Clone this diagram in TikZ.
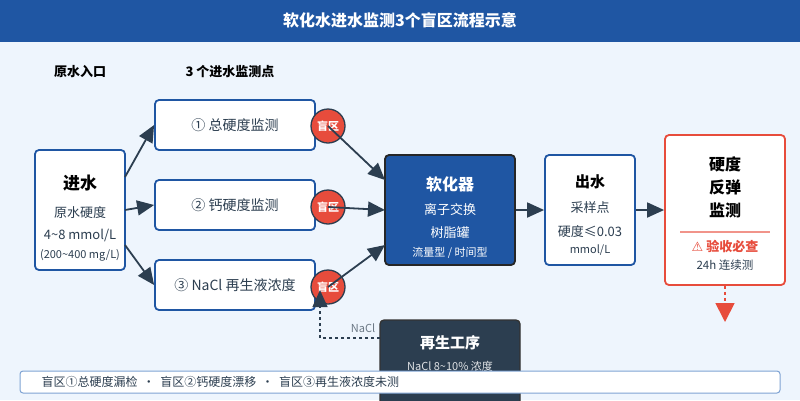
\documentclass[tikz,border=0pt]{standalone}
\usepackage{fontspec}
\setmainfont{Noto Sans CJK SC}
\newfontfamily\symfont{DejaVu Sans}
\usetikzlibrary{arrows.meta,positioning}
\definecolor{titblue}{HTML}{1F56A3}
\definecolor{bgblue}{HTML}{EEF5FD}
\definecolor{darkline}{HTML}{2C3E50}
\definecolor{alertred}{HTML}{E74C3C}
\definecolor{legline}{HTML}{7FA3D3}
\tikzset{
  box/.style={draw=titblue, line width=1.8pt, fill=white, rounded corners=4pt, align=center},
  blind/.style={circle, draw=darkline, line width=1.3pt, fill=alertred, minimum size=34pt, inner sep=0pt, text=white, font=\fontsize{11}{11}\selectfont\bfseries},
  flow/.style={draw=darkline, line width=1.8pt, -{Triangle[length=17pt,width=15pt]}},
}
\begin{document}
\begin{tikzpicture}[x=1pt,y=-1pt]
	% Fondo
		\fill[bgblue] (0,0) rectangle (800,400);
		\fill[titblue] (0,0) rectangle (800,42);
		\node[text=white, font=\fontsize{16}{16}\selectfont\bfseries] (title) at (400,20) {软化水进水监测3个盲区流程示意};
		\useasboundingbox (0,0) rectangle (800,400);

	% Encabezados
		\node[font=\fontsize{13}{13}\selectfont\bfseries] (hin) at (80,72) {原水入口};
		\node[font=\fontsize{13}{13}\selectfont\bfseries] (hmon) at (230,72) {3 个进水监测点};

	% Entrada
		\draw[box] (35,150) rectangle (125,270);
		\node[font=\fontsize{17}{17}\selectfont\bfseries] (inT) at (80,183) {进水};
		\node[font=\fontsize{13}{13}\selectfont, text=darkline] (inA) at (80,213) {原水硬度};
		\node[font=\fontsize{13}{13}\selectfont, text=darkline] (inB) at (80,235) {4\textasciitilde8 mmol/L};
		\node[font=\fontsize{11}{11}\selectfont, text=darkline] (inC) at (80,255) {(200\textasciitilde400 mg/L)};
		\coordinate (in1) at (125,177);
		\coordinate (in2) at (125,210);
		\coordinate (in3) at (125,245);

	% Puntos de monitoreo
		\node[box, minimum width=160pt, minimum height=50pt, font=\fontsize{14}{14}\selectfont, text=darkline] (m1) at (235,125) {① 总硬度监测};
		\node[box, minimum width=160pt, minimum height=50pt, font=\fontsize{14}{14}\selectfont, text=darkline] (m2) at (235,205) {② 钙硬度监测};
		\node[box, minimum width=160pt, minimum height=50pt, font=\fontsize{14}{14}\selectfont, text=darkline] (m3) at (235,285) {③ NaCl 再生液浓度};

	% Ablandador, salida, rebote
		\node[box, draw=black!85, fill=titblue, text=white, minimum width=130pt, minimum height=110pt] (soft) at (450,210) {};
		\node[text=white, font=\fontsize{16}{16}\selectfont\bfseries] (softT) at (450,184) {软化器};
		\node[text=white, font=\fontsize{13}{13}\selectfont] (softA) at (450,210) {离子交换};
		\node[text=white, font=\fontsize{13}{13}\selectfont] (softB) at (450,233) {树脂罐};
		\node[text=white, font=\fontsize{11}{11}\selectfont] (softC) at (450,253) {流量型 / 时间型};

		\node[box, minimum width=90pt, minimum height=110pt] (out) at (590,210) {};
		\node[font=\fontsize{15}{15}\selectfont\bfseries] (outT) at (590,182) {出水};
		\node[font=\fontsize{13}{13}\selectfont, text=darkline] (outA) at (590,208) {采样点};
		\node[font=\fontsize{13}{13}\selectfont, text=darkline] (outB) at (590,232) {硬度≤0.03};
		\node[font=\fontsize{11}{11}\selectfont, text=darkline] (outC) at (590,250) {mmol/L};

		\node[box, draw=alertred, minimum width=120pt, minimum height=150pt] (reb) at (725,210) {};
		\node[font=\fontsize{16}{23}\selectfont\bfseries, align=center] (rebT) at (725,187) {硬度\\反弹\\监测};
		\draw[alertred!60, line width=1.2pt] (680,232) -- (770,232);
		\node[text=alertred, font=\fontsize{13}{13}\selectfont\bfseries] (rebA) at (725,246) {{\symfont ⚠} 验收必查};
		\node[text=darkline, font=\fontsize{11.5}{11}\selectfont] (rebB) at (725,265) {24h 连续测};
		\coordinate (rebEnd) at (725,322);

	% Regeneracion
		\draw[fill=darkline, draw=black!80, line width=1.3pt, rounded corners=4pt] (380,320) rectangle (520,410);
		\node[text=white, font=\fontsize{15}{15}\selectfont\bfseries] (regT) at (450,343) {再生工序};
		\node[text=white!85!darkline, font=\fontsize{11}{11}\selectfont] (regA) at (450,366) {NaCl 8\textasciitilde10\% 浓度};
		\coordinate (reg) at (380,338);
		\node[text=darkline!70, font=\fontsize{11}{11}\selectfont] (nacl) at (363,328) {NaCl};

	% Zonas ciegas
		\node[blind] (b1) at (328,126) {盲区};
		\node[blind] (b2) at (328,207) {盲区};
		\node[blind] (b3) at (328,287) {盲区};
		\coordinate (b3in) at (320,290);

	% Flechas
		\draw[flow] (in1) -- (m1.west);
		\draw[flow] (in2) -- (m2.west);
		\draw[flow] (in3) -- (m3.west);
		\draw[flow] (b1.center) -- (385,180);
		\draw[flow] (b2.center) -- (385,210);
		\draw[flow] (b3.center) -- (385,245);
		\draw[flow] (soft.east) -- (out.west);
		\draw[flow] (out.east) -- (reb.west);
		\draw[flow, dashed, line width=1.4pt] (reg) -| (b3in);
		\draw[flow, draw=alertred, dashed, line width=1.8pt, -{Triangle[length=19pt,width=19pt]}, alertred] (reb.south) -- (rebEnd);

	% Leyenda
		\draw[fill=white, draw=legline, line width=1pt, rounded corners=3pt] (20,371) rectangle (780,393);
		\node[anchor=west, text=darkline, font=\fontsize{12}{12}\selectfont] (leg) at (38,382) {盲区①总硬度漏检 \ · \ 盲区②钙硬度漂移 \ · \ 盲区③再生液浓度未测};
\end{tikzpicture}
\end{document}
